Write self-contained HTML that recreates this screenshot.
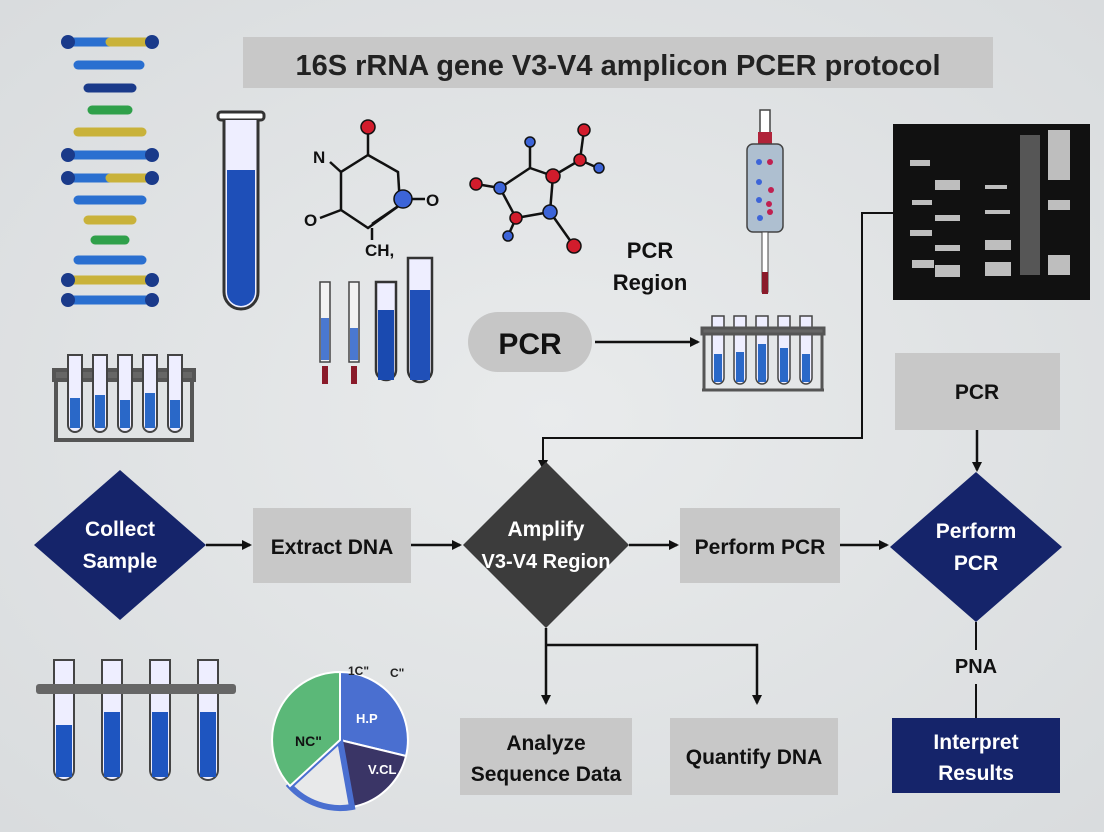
<!DOCTYPE html>
<html><head><meta charset="utf-8"><style>
body{margin:0;width:1104px;height:832px;overflow:hidden;background:#e3e5e7;}
svg{display:block}
text{font-family:"Liberation Sans",sans-serif;font-weight:bold}
</style></head><body>
<svg width="1104" height="832" viewBox="0 0 1104 832">
<defs>
<radialGradient id="bg" cx="50%" cy="50%" r="70%"><stop offset="0" stop-color="#e9ebec"/><stop offset="1" stop-color="#d9dcde"/></radialGradient>
<marker id="ah" markerWidth="10" markerHeight="10" refX="8" refY="5" orient="auto" markerUnits="userSpaceOnUse"><path d="M0,0 L10,5 L0,10z" fill="#111"/></marker>
</defs>
<rect width="1104" height="832" fill="url(#bg)"/>
<!-- title -->
<rect x="243" y="37" width="750" height="51" fill="#c8c8c8"/>
<text x="618" y="75" font-size="29" text-anchor="middle" fill="#222">16S rRNA gene V3-V4 amplicon PCER protocol</text>
<!-- DNA helix -->
<g stroke-width="9" stroke-linecap="round">
<line x1="70" y1="42" x2="150" y2="42" stroke="#2a6fd0"/><line x1="110" y1="42" x2="150" y2="42" stroke="#c9b23a"/>
<line x1="78" y1="65" x2="140" y2="65" stroke="#2a6fd0"/>
<line x1="88" y1="88" x2="132" y2="88" stroke="#1a3a8a"/>
<line x1="92" y1="110" x2="128" y2="110" stroke="#2fa04a"/>
<line x1="78" y1="132" x2="142" y2="132" stroke="#c9b23a"/>
<line x1="70" y1="155" x2="150" y2="155" stroke="#2a6fd0"/>
<line x1="70" y1="178" x2="150" y2="178" stroke="#2a6fd0"/><line x1="110" y1="178" x2="150" y2="178" stroke="#c9b23a"/>
<line x1="78" y1="200" x2="142" y2="200" stroke="#2a6fd0"/>
<line x1="88" y1="220" x2="132" y2="220" stroke="#c9b23a"/>
<line x1="95" y1="240" x2="125" y2="240" stroke="#2fa04a"/>
<line x1="78" y1="260" x2="142" y2="260" stroke="#2a6fd0"/>
<line x1="70" y1="280" x2="150" y2="280" stroke="#c9b23a"/>
<line x1="70" y1="300" x2="150" y2="300" stroke="#2a6fd0"/>
</g>
<g fill="#1a3a8a"><circle cx="68" cy="42" r="7"/><circle cx="152" cy="42" r="7"/><circle cx="68" cy="155" r="7"/><circle cx="152" cy="155" r="7"/><circle cx="68" cy="178" r="7"/><circle cx="152" cy="178" r="7"/><circle cx="68" cy="300" r="7"/><circle cx="152" cy="300" r="7"/><circle cx="68" cy="280" r="7"/><circle cx="152" cy="280" r="7"/></g>
<!-- big test tube -->
<rect x="218" y="112" width="46" height="8" rx="3" fill="#fff" stroke="#333" stroke-width="3"/>
<path d="M224,120 V292 a17,17 0 0 0 34,0 V120" fill="#eef" stroke="#333" stroke-width="3"/>
<path d="M227,170 V292 a14,14 0 0 0 28,0 V170z" fill="#1e4fb8"/>
<!-- left rack -->
<g stroke="#555" stroke-width="4" fill="none"><rect x="54" y="370" width="140" height="10" fill="#666"/><line x1="56" y1="380" x2="56" y2="440"/><line x1="192" y1="380" x2="192" y2="440"/><line x1="54" y1="440" x2="194" y2="440"/></g>
<g stroke="#444" stroke-width="2" fill="#eef">
<path d="M68,355 v70 a7,7 0 0 0 14,0 v-70z"/><path d="M93,355 v70 a7,7 0 0 0 14,0 v-70z"/><path d="M118,355 v70 a7,7 0 0 0 14,0 v-70z"/><path d="M143,355 v70 a7,7 0 0 0 14,0 v-70z"/><path d="M168,355 v70 a7,7 0 0 0 14,0 v-70z"/></g>
<g fill="#2a68c8"><rect x="70" y="398" width="10" height="30"/><rect x="95" y="395" width="10" height="33"/><rect x="120" y="400" width="10" height="28"/><rect x="145" y="393" width="10" height="35"/><rect x="170" y="400" width="10" height="28"/></g>
<!-- chem 1 -->
<g stroke="#111" stroke-width="2.5" fill="none"><path d="M368,155 L341,172 L341,210 L368,228 L400,205 L398,172 Z"/><line x1="368" y1="155" x2="368" y2="128"/><line x1="330" y1="162" x2="341" y2="172"/><line x1="320" y1="218" x2="341" y2="210"/><line x1="410" y1="198" x2="372" y2="224"/><line x1="372" y1="228" x2="372" y2="240"/><line x1="410" y1="199" x2="425" y2="199"/></g>
<circle cx="368" cy="127" r="7" fill="#d21c2c" stroke="#111" stroke-width="1.5"/><circle cx="403" cy="199" r="9" fill="#3c64d8" stroke="#111" stroke-width="1.5"/>
<text x="313" y="163" font-size="17" fill="#111">N</text><text x="304" y="226" font-size="17" fill="#111">O</text><text x="426" y="206" font-size="17" fill="#111">O</text><text x="365" y="256" font-size="17" fill="#111">CH,</text>
<!-- chem 2 -->
<g stroke="#111" stroke-width="2.5"><line x1="476" y1="184" x2="500" y2="188"/><line x1="500" y1="188" x2="530" y2="168"/><line x1="500" y1="188" x2="516" y2="218"/><line x1="516" y1="218" x2="550" y2="212"/><line x1="550" y1="212" x2="553" y2="176"/><line x1="530" y1="168" x2="553" y2="176"/><line x1="530" y1="168" x2="530" y2="142"/><line x1="553" y1="176" x2="580" y2="160"/><line x1="580" y1="160" x2="584" y2="130"/><line x1="580" y1="160" x2="598" y2="168"/><line x1="550" y1="212" x2="574" y2="246"/><line x1="516" y1="218" x2="508" y2="236"/></g>
<g stroke="#111" stroke-width="1.5"><circle cx="476" cy="184" r="6" fill="#d21c2c"/><circle cx="500" cy="188" r="6" fill="#3c64d8"/><circle cx="530" cy="142" r="5" fill="#3c64d8"/><circle cx="553" cy="176" r="7" fill="#d21c2c"/><circle cx="580" cy="160" r="6" fill="#d21c2c"/><circle cx="584" cy="130" r="6" fill="#d21c2c"/><circle cx="599" cy="168" r="5" fill="#3c64d8"/><circle cx="516" cy="218" r="6" fill="#d21c2c"/><circle cx="550" cy="212" r="7" fill="#3c64d8"/><circle cx="574" cy="246" r="7" fill="#d21c2c"/><circle cx="508" cy="236" r="5" fill="#3c64d8"/></g>
<text x="650" y="258" font-size="22" fill="#111" text-anchor="middle">PCR</text><text x="650" y="290" font-size="22" fill="#111" text-anchor="middle">Region</text>
<!-- small tubes -->
<g stroke="#444" stroke-width="1.5" fill="#f2f2f2"><rect x="320" y="282" width="10" height="80"/><rect x="349" y="282" width="10" height="80"/></g>
<rect x="321" y="318" width="8" height="42" fill="#4a78d0"/><rect x="350" y="328" width="8" height="32" fill="#4a78d0"/>
<rect x="322" y="366" width="6" height="18" fill="#8a1a2a"/><rect x="351" y="366" width="6" height="18" fill="#8a1a2a"/>
<path d="M376,282 v88 a10,10 0 0 0 20,0 v-88z" fill="#eef" stroke="#333" stroke-width="2.5"/><rect x="378" y="310" width="16" height="70" fill="#1a4ab0"/>
<path d="M408,258 v112 a12,12 0 0 0 24,0 v-112z" fill="#eef" stroke="#333" stroke-width="2.5"/><rect x="410" y="290" width="20" height="90" fill="#2050b8"/>
<!-- PCR pill -->
<rect x="468" y="312" width="124" height="60" rx="30" fill="#c6c6c6"/>
<text x="530" y="354" font-size="30" text-anchor="middle" fill="#111">PCR</text>
<line x1="595" y1="342" x2="698" y2="342" stroke="#111" stroke-width="2.5" marker-end="url(#ah)"/>
<!-- pipette -->
<rect x="760" y="110" width="10" height="28" fill="#fff" stroke="#444" stroke-width="1.5"/><rect x="758" y="132" width="14" height="12" fill="#b0243a"/>
<rect x="747" y="144" width="36" height="88" rx="6" fill="#aebfd0" stroke="#444" stroke-width="1.5"/>
<rect x="762" y="232" width="6" height="60" fill="#fff" stroke="#444"/><rect x="762" y="272" width="6" height="22" fill="#8a1a2a"/>
<g fill="#3c64d8"><circle cx="759" cy="162" r="3"/><circle cx="759" cy="182" r="3"/><circle cx="759" cy="200" r="3"/><circle cx="760" cy="218" r="3"/></g>
<g fill="#c02050"><circle cx="770" cy="162" r="3"/><circle cx="771" cy="190" r="3"/><circle cx="769" cy="204" r="3"/><circle cx="770" cy="212" r="3"/></g>
<!-- right rack -->
<g stroke="#444" stroke-width="1.5" fill="#eef"><path d="M712,316 v62 a6,6 0 0 0 12,0 v-62z"/><path d="M734,316 v62 a6,6 0 0 0 12,0 v-62z"/><path d="M756,316 v62 a6,6 0 0 0 12,0 v-62z"/><path d="M778,316 v62 a6,6 0 0 0 12,0 v-62z"/><path d="M800,316 v62 a6,6 0 0 0 12,0 v-62z"/></g>
<g fill="#2a68c8"><rect x="714" y="354" width="8" height="28"/><rect x="736" y="352" width="8" height="30"/><rect x="758" y="344" width="8" height="38"/><rect x="780" y="348" width="8" height="34"/><rect x="802" y="354" width="8" height="28"/></g>
<g stroke="#555" stroke-width="3" fill="none"><rect x="702" y="328" width="122" height="6" fill="#666"/><line x1="704" y1="334" x2="704" y2="390"/><line x1="822" y1="334" x2="822" y2="390"/><line x1="702" y1="390" x2="824" y2="390"/></g>
<!-- gel -->
<rect x="893" y="124" width="197" height="176" fill="#111"/>
<g fill="#ddd" opacity="0.85"><rect x="910" y="160" width="20" height="6"/><rect x="912" y="200" width="20" height="5"/><rect x="910" y="230" width="22" height="6"/><rect x="912" y="260" width="22" height="8"/><rect x="935" y="180" width="25" height="10"/><rect x="935" y="215" width="25" height="6"/><rect x="935" y="245" width="25" height="6"/><rect x="935" y="265" width="25" height="12"/><rect x="985" y="185" width="22" height="4"/><rect x="985" y="210" width="25" height="4"/><rect x="985" y="240" width="26" height="10"/><rect x="985" y="262" width="26" height="14"/><rect x="1020" y="135" width="20" height="140" opacity="0.4"/><rect x="1048" y="130" width="22" height="50"/><rect x="1048" y="200" width="22" height="10"/><rect x="1048" y="255" width="22" height="20"/></g>
<!-- connector from gel -->
<polyline points="893,213 862,213 862,438 543,438 543,468" fill="none" stroke="#111" stroke-width="2" marker-end="url(#ah)"/>
<!-- top right PCR box -->
<rect x="895" y="353" width="165" height="77" fill="#c8c8c8"/>
<text x="977" y="399" font-size="21" text-anchor="middle" fill="#111">PCR</text>
<line x1="977" y1="430" x2="977" y2="470" stroke="#111" stroke-width="2.5" marker-end="url(#ah)"/>
<!-- flow row -->
<polygon points="120,470 206,545 120,620 34,545" fill="#15246a"/>
<text x="120" y="536" font-size="21" fill="#fff" text-anchor="middle">Collect</text><text x="120" y="568" font-size="21" fill="#fff" text-anchor="middle">Sample</text>
<line x1="206" y1="545" x2="250" y2="545" stroke="#111" stroke-width="2.5" marker-end="url(#ah)"/>
<rect x="253" y="508" width="158" height="75" fill="#c8c8c8"/>
<text x="332" y="554" font-size="21" text-anchor="middle" fill="#111">Extract DNA</text>
<line x1="411" y1="545" x2="460" y2="545" stroke="#111" stroke-width="2.5" marker-end="url(#ah)"/>
<polygon points="546,462 629,545 546,628 463,545" fill="#3c3c3c"/>
<text x="546" y="536" font-size="21" fill="#fff" text-anchor="middle">Amplify</text><text x="546" y="568" font-size="20" fill="#fff" text-anchor="middle">V3-V4 Region</text>
<line x1="629" y1="545" x2="677" y2="545" stroke="#111" stroke-width="2.5" marker-end="url(#ah)"/>
<rect x="680" y="508" width="160" height="75" fill="#c8c8c8"/>
<text x="760" y="554" font-size="21" text-anchor="middle" fill="#111">Perform PCR</text>
<line x1="840" y1="545" x2="887" y2="545" stroke="#111" stroke-width="2.5" marker-end="url(#ah)"/>
<polygon points="976,472 1062,547 976,622 890,547" fill="#15246a"/>
<text x="976" y="538" font-size="21" fill="#fff" text-anchor="middle">Perform</text><text x="976" y="570" font-size="21" fill="#fff" text-anchor="middle">PCR</text>
<!-- branches -->
<line x1="546" y1="628" x2="546" y2="703" stroke="#111" stroke-width="2.5" marker-end="url(#ah)"/>
<polyline points="546,645 757,645 757,703" fill="none" stroke="#111" stroke-width="2.5" marker-end="url(#ah)"/>
<rect x="460" y="718" width="172" height="77" fill="#c8c8c8"/>
<text x="546" y="750" font-size="21" text-anchor="middle" fill="#111">Analyze</text><text x="546" y="781" font-size="21" text-anchor="middle" fill="#111">Sequence Data</text>
<rect x="670" y="718" width="168" height="77" fill="#c8c8c8"/>
<text x="754" y="764" font-size="21" text-anchor="middle" fill="#111">Quantify DNA</text>
<line x1="976" y1="622" x2="976" y2="650" stroke="#111" stroke-width="2"/>
<text x="976" y="673" font-size="20" text-anchor="middle" fill="#111">PNA</text>
<line x1="976" y1="684" x2="976" y2="718" stroke="#111" stroke-width="2"/>
<rect x="892" y="718" width="168" height="75" fill="#15246a"/>
<text x="976" y="749" font-size="21" fill="#fff" text-anchor="middle">Interpret</text><text x="976" y="780" font-size="21" fill="#fff" text-anchor="middle">Results</text>
<!-- bottom left tubes -->
<g stroke="#444" stroke-width="2" fill="#eef"><path d="M54,660 v110 a10,10 0 0 0 20,0 v-110z"/><path d="M102,660 v110 a10,10 0 0 0 20,0 v-110z"/><path d="M150,660 v110 a10,10 0 0 0 20,0 v-110z"/><path d="M198,660 v110 a10,10 0 0 0 20,0 v-110z"/></g>
<g fill="#1e55c0"><rect x="56" y="725" width="16" height="52"/><rect x="104" y="712" width="16" height="65"/><rect x="152" y="712" width="16" height="65"/><rect x="200" y="712" width="16" height="65"/></g>
<rect x="36" y="684" width="200" height="10" rx="3" fill="#666"/>
<!-- pie -->
<path d="M340,740 L340,672 A68,68 0 0 1 406,756 Z" fill="#4a6fd0" stroke="#fff" stroke-width="2"/>
<path d="M340,740 L406,756 A68,68 0 0 1 352,807 Z" fill="#3a3566" stroke="#fff" stroke-width="2"/>
<path d="M340,740 L352,807 A68,68 0 0 1 290,786 Z" fill="#e8e9ea" stroke="#4a6fd0" stroke-width="6"/>
<path d="M340,740 L290,786 A68,68 0 0 1 340,672 Z" fill="#5bb878" stroke="#fff" stroke-width="2"/>
<text x="348" y="675" font-size="12" fill="#222">1C"</text><text x="390" y="677" font-size="12" fill="#222">C"</text>
<text x="295" y="746" font-size="14" fill="#111">NC"</text><text x="356" y="723" font-size="13" fill="#fff">H.P</text><text x="368" y="774" font-size="13" fill="#fff">V.CL</text>
</svg>
</body></html>
